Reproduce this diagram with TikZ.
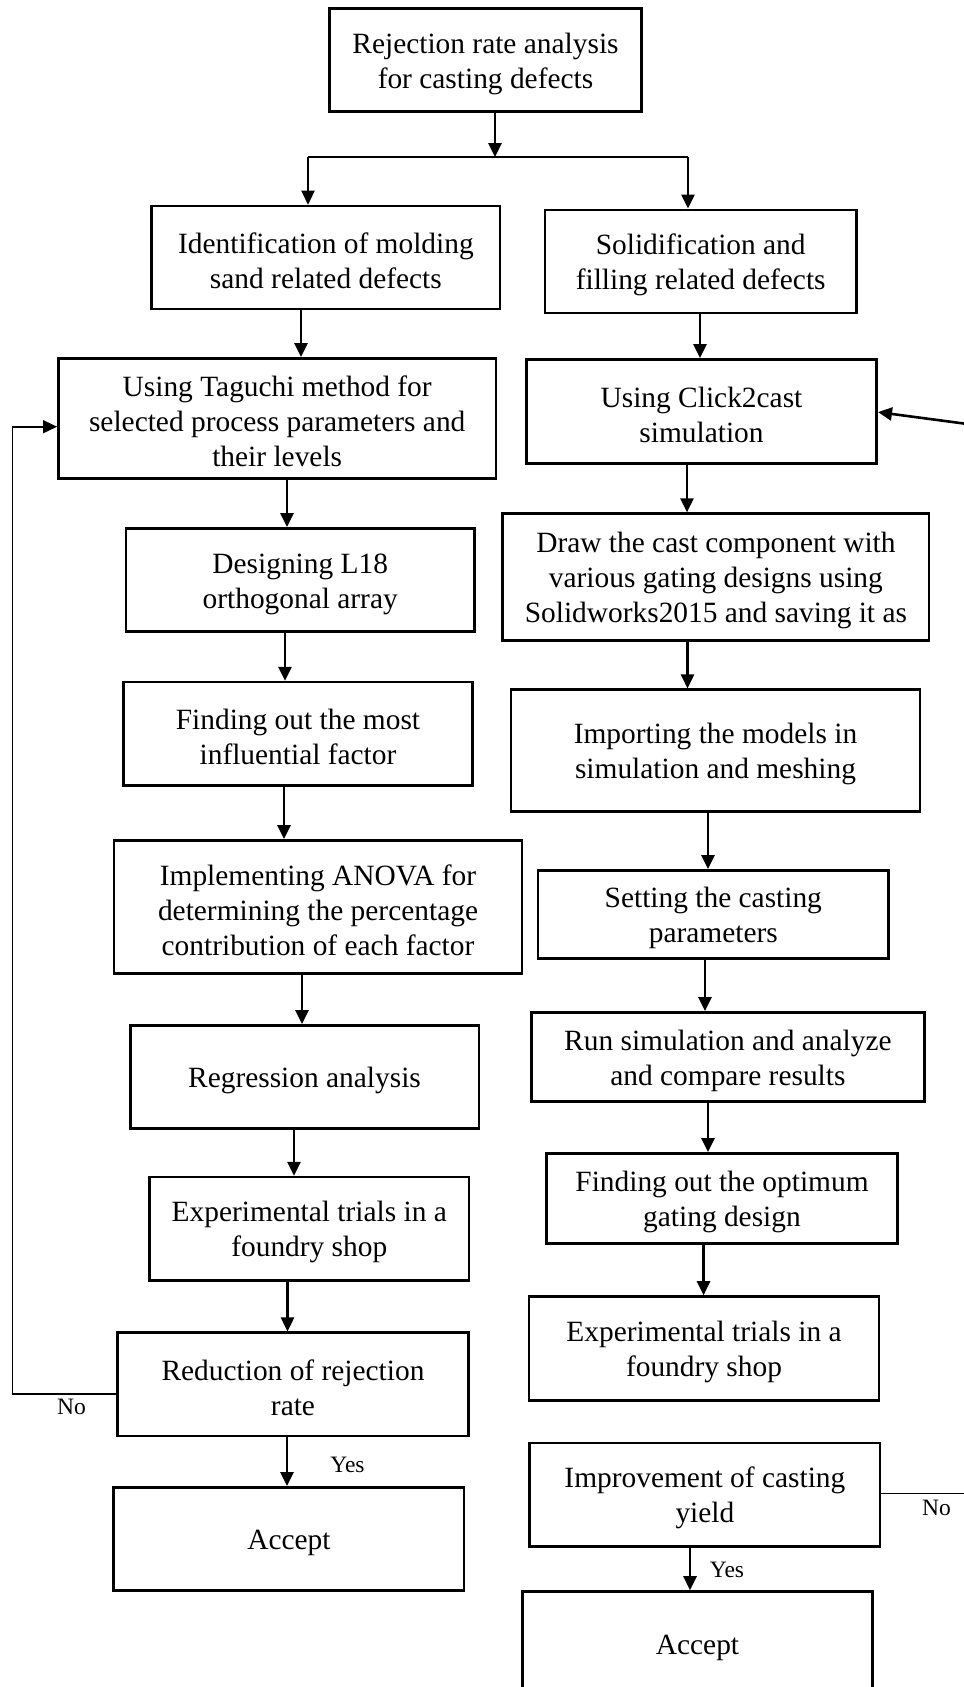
\documentclass[tikz,border=0pt]{standalone}
\usepackage{fontspec}
\setmainfont{Liberation Serif}
\usetikzlibrary{arrows.meta}
\newcommand\mystrut{\rule{0pt}{27.6pt}}
\begin{document}
\begin{tikzpicture}[x=1pt,y=-1pt,
  box/.style={draw, line width=2.6pt, align=center, inner sep=0pt,
    font=\fontsize{29.4}{35}\selectfont},
  arr/.style={line width=2.6pt, -{Triangle[length=14pt,width=13pt]}},
  thinline/.style={line width=1.4pt},
  thinarr/.style={line width=1.6pt, -{Triangle[length=14pt,width=13pt]}},
  lbl/.style={inner sep=0pt, font=\fontsize{23.5}{26}\selectfont}]
\useasboundingbox (0,0) rectangle (964,1687);
\clip (0,0) rectangle (964,1687);

% top
\node[box, minimum width=312pt, minimum height=103pt] (top) at (485.5,60.2)
  {\mystrut Rejection rate analysis\\for casting defects};

% left column
\node[box, minimum width=348.3pt, minimum height=103pt] (L1) at (325.9,257.5)
  {\mystrut Identification of molding\\sand related defects};
\node[box, minimum width=437.7pt, minimum height=120pt] (L2) at (277.2,418.3)
  {\mystrut Using Taguchi method for\\selected process parameters and\\their levels};
\node[box, minimum width=348.6pt, minimum height=103.3pt] (L3) at (300.2,580)
  {\mystrut Designing L18\\orthogonal array};
\node[box, minimum width=348.6pt, minimum height=103.3pt] (L4) at (298,733.8)
  {\mystrut Finding out the most\\influential factor};
\node[box, minimum width=407.8pt, minimum height=133.4pt] (L5) at (318,907)
  {\mystrut Implementing ANOVA for\\determining the percentage\\contribution of each factor};
\node[box, minimum width=348.6pt, minimum height=103.3pt] (L6) at (304.5,1077)
  {\mystrut Regression analysis};
\node[box, minimum width=319.5pt, minimum height=103.3pt] (L7) at (309.3,1228.7)
  {\mystrut Experimental trials in a\\foundry shop};
\node[box, minimum width=350.6pt, minimum height=103.3pt] (L8) at (293,1384.4)
  {\mystrut Reduction of rejection\\rate};
\node[box, minimum width=350.3pt, minimum height=103.4pt] (L9) at (288.9,1539)
  {\mystrut Accept};

% right column
\node[box, minimum width=311.4pt, minimum height=103.3pt] (R1) at (700.7,261.5)
  {\mystrut Solidification and\\filling related defects};
\node[box, minimum width=350.4pt, minimum height=104pt] (R2) at (701.5,411.4)
  {\mystrut Using Click2cast\\simulation};
\node[box, minimum width=426.3pt, minimum height=127pt] (R3) at (715.9,577.2)
  {\mystrut Draw the cast component with\\various gating designs using\\Solidworks2015 and saving it as};
\node[box, minimum width=408.9pt, minimum height=121.5pt] (R4) at (715.5,750.5)
  {\mystrut Importing the models in\\simulation and meshing};
\node[box, minimum width=350.7pt, minimum height=88.2pt] (R5) at (713.3,914.5)
  {\mystrut Setting the casting\\parameters};
\node[box, minimum width=392.7pt, minimum height=89.3pt] (R6) at (727.9,1057)
  {\mystrut Run simulation and analyze\\and compare results};
\node[box, minimum width=350.7pt, minimum height=90.3pt] (R7) at (722,1198.5)
  {\mystrut Finding out the optimum\\gating design};
\node[box, minimum width=350pt, minimum height=103.8pt] (R8) at (704,1348.4)
  {\mystrut Experimental trials in a\\foundry shop};
\node[box, minimum width=350.3pt, minimum height=103.3pt] (R9) at (704.9,1494.7)
  {\mystrut Improvement of casting\\yield};
\node[box, minimum width=349.6pt, minimum height=104pt] (R10) at (697.5,1643.5)
  {\mystrut Accept};

% x positions of connectors
\coordinate (jc) at (495,157);
\coordinate (jl) at (308,157);
\coordinate (jr) at (688,157);
\coordinate (a1) at (301,0);
\coordinate (a2) at (287,0);
\coordinate (a3) at (285,0);
\coordinate (a4) at (284,0);
\coordinate (a5) at (302,0);
\coordinate (a6) at (294,0);
\coordinate (a7) at (287.5,0);
\coordinate (a8) at (287,0);
\coordinate (b1) at (700,0);
\coordinate (b2) at (687,0);
\coordinate (b3) at (687.5,0);
\coordinate (b4) at (708,0);
\coordinate (b5) at (705,0);
\coordinate (b6) at (708,0);
\coordinate (b7) at (703.6,0);
\coordinate (b9) at (690,0);
\coordinate (fl) at (12.3,0);
\coordinate (fr) at (990,427);
\coordinate (nr) at (990,1493.7);

% top split
\draw[arr] (top.south -| jc) -- (jc);
\draw[thinline] (jl) -- (jr);
\draw[arr] (jl) -- (L1.north -| jl);
\draw[arr] (jr) -- (R1.north -| jr);

% left chain
\draw[arr] (L1.south -| a1) -- (L2.north -| a1);
\draw[arr] (L2.south -| a2) -- (L3.north -| a2);
\draw[arr] (L3.south -| a3) -- (L4.north -| a3);
\draw[arr] (L4.south -| a4) -- (L5.north -| a4);
\draw[arr] (L5.south -| a5) -- (L6.north -| a5);
\draw[arr] (L6.south -| a6) -- (L7.north -| a6);
\draw[arr] (L7.south -| a7) -- (L8.north -| a7);
\draw[arr] (L8.south -| a8) -- (L9.north -| a8);

% right chain
\draw[arr] (R1.south -| b1) -- (R2.north -| b1);
\draw[arr] (R2.south -| b2) -- (R3.north -| b2);
\draw[arr] (R3.south -| b3) -- (R4.north -| b3);
\draw[arr] (R4.south -| b4) -- (R5.north -| b4);
\draw[arr] (R5.south -| b5) -- (R6.north -| b5);
\draw[arr] (R6.south -| b6) -- (R7.north -| b6);
\draw[arr] (R7.south -| b7) -- (R8.north -| b7);
\draw[arr] (R9.south -| b9) -- (R10.north -| b9);

% feedback loops
\draw[thinarr] ([yshift=-9.6pt]L8.west) -| (fl |- 0,426.7) -- (L2.west |- 0,426.7);
\draw[arr] (fr) -- ([yshift=-0.7pt]R2.east);
\draw[thinline] (R9.east |- nr) -- (nr);

% labels
\node[lbl] (no1) at (71.5,1407) {No};
\node[lbl] (yes1) at (347.5,1465) {Yes};
\node[lbl] (no2) at (936.5,1508) {No};
\node[lbl] (yes2) at (727,1569.7) {Yes};
\end{tikzpicture}
\end{document}
